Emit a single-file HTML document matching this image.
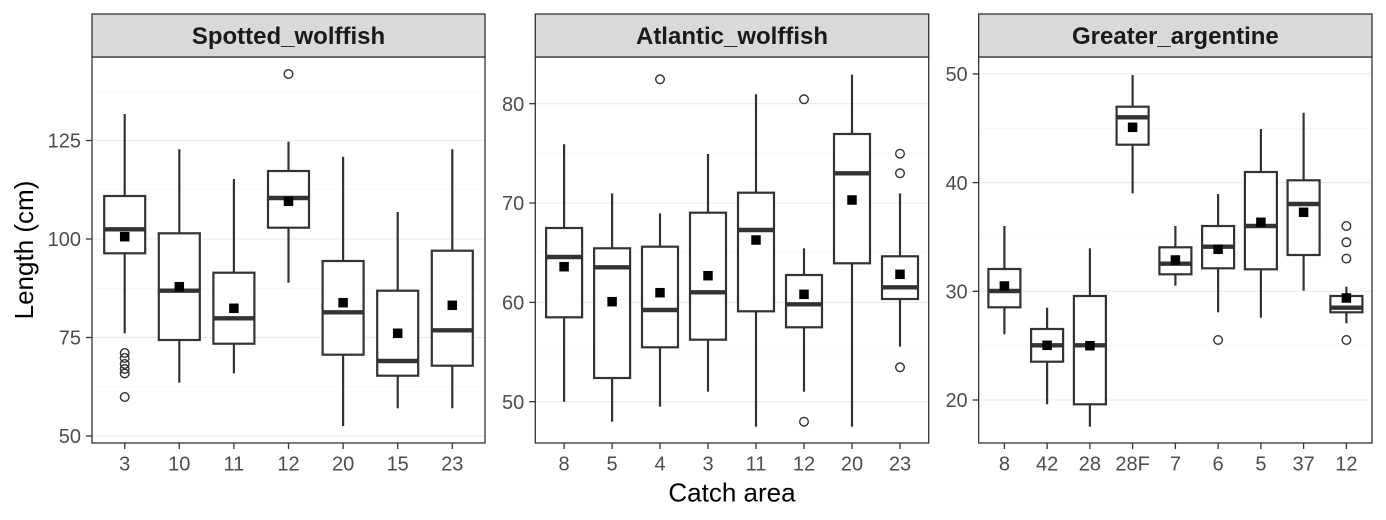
<!DOCTYPE html>
<html>
<head>
<meta charset="utf-8">
<style>
html,body{margin:0;padding:0;background:#fff;}
svg{display:block;}
.tk{font-family:"Liberation Sans",Arial,sans-serif;font-size:20px;fill:#4d4d4d;}
.st{font-family:"Liberation Sans",Arial,sans-serif;font-size:24px;font-weight:bold;fill:#1a1a1a;}
.ti{font-family:"Liberation Sans",Arial,sans-serif;font-size:26px;fill:#000;}
.gM{stroke:#ebebeb;stroke-width:1.1;}
.gm{stroke:#f2f2f2;stroke-width:0.6;}
.w{stroke:#333;stroke-width:2.2;}
.b{fill:#fff;stroke:#333;stroke-width:2.2;}
.md{stroke:#333;stroke-width:4.4;}
.o{fill:none;stroke:#333;stroke-width:1.4;}
.mn{fill:#000;}
.fr{fill:none;stroke:#333;stroke-width:1.3;}
.tm{stroke:#333;stroke-width:1.3;}
</style>
</head>
<body>
<svg width="1386" height="520" viewBox="0 0 1386 520" xmlns="http://www.w3.org/2000/svg">
<rect x="0" y="0" width="1386" height="520" fill="#fff"/>

<!-- ================= PANEL 1 ================= -->
<rect x="92" y="57" width="393" height="386" fill="#fff"/>
<g>
<line class="gm" x1="92" x2="485" y1="386.75" y2="386.75"/>
<line class="gm" x1="92" x2="485" y1="288.25" y2="288.25"/>
<line class="gm" x1="92" x2="485" y1="189.75" y2="189.75"/>
<line class="gm" x1="92" x2="485" y1="91.25" y2="91.25"/>
<line class="gM" x1="92" x2="485" y1="436" y2="436"/>
<line class="gM" x1="92" x2="485" y1="337.5" y2="337.5"/>
<line class="gM" x1="92" x2="485" y1="239" y2="239"/>
<line class="gM" x1="92" x2="485" y1="140.5" y2="140.5"/>
</g>
<!-- box 3 -->
<line class="w" x1="124.7" x2="124.7" y1="114" y2="196"/>
<line class="w" x1="124.7" x2="124.7" y1="253.3" y2="333.3"/>
<rect class="b" x="104.2" y="196" width="41" height="57.3"/>
<line class="md" x1="104.2" x2="145.2" y1="229.3" y2="229.3"/>
<circle class="o" cx="124.7" cy="353" r="4.3"/>
<circle class="o" cx="124.7" cy="358" r="4.3"/>
<circle class="o" cx="124.7" cy="364" r="4.3"/>
<circle class="o" cx="124.7" cy="369" r="4.3"/>
<circle class="o" cx="124.7" cy="373.5" r="4.3"/>
<circle class="o" cx="124.7" cy="397" r="4.3"/>
<rect class="mn" x="119.95" y="231.95" width="9.5" height="9.5"/>
<!-- box 10 -->
<line class="w" x1="179.3" x2="179.3" y1="149.3" y2="233.3"/>
<line class="w" x1="179.3" x2="179.3" y1="340" y2="382.7"/>
<rect class="b" x="158.8" y="233.3" width="41" height="106.7"/>
<line class="md" x1="158.8" x2="199.8" y1="290.7" y2="290.7"/>
<rect class="mn" x="174.55" y="281.95" width="9.5" height="9.5"/>
<!-- box 11 -->
<line class="w" x1="233.9" x2="233.9" y1="179" y2="272.7"/>
<line class="w" x1="233.9" x2="233.9" y1="343.7" y2="373.3"/>
<rect class="b" x="213.4" y="272.7" width="41" height="71"/>
<line class="md" x1="213.4" x2="254.4" y1="318.3" y2="318.3"/>
<rect class="mn" x="229.15" y="303.55" width="9.5" height="9.5"/>
<!-- box 12 -->
<line class="w" x1="288.5" x2="288.5" y1="141.7" y2="171"/>
<line class="w" x1="288.5" x2="288.5" y1="227.7" y2="282.7"/>
<rect class="b" x="268" y="171" width="41" height="56.7"/>
<line class="md" x1="268" x2="309" y1="198" y2="198"/>
<circle class="o" cx="288.5" cy="74" r="4.3"/>
<rect class="mn" x="283.75" y="196.55" width="9.5" height="9.5"/>
<!-- box 20 -->
<line class="w" x1="343.1" x2="343.1" y1="156.7" y2="261"/>
<line class="w" x1="343.1" x2="343.1" y1="354.7" y2="426"/>
<rect class="b" x="322.6" y="261" width="41" height="93.7"/>
<line class="md" x1="322.6" x2="363.6" y1="312.3" y2="312.3"/>
<rect class="mn" x="338.35" y="297.95" width="9.5" height="9.5"/>
<!-- box 15 -->
<line class="w" x1="397.7" x2="397.7" y1="212" y2="290.7"/>
<line class="w" x1="397.7" x2="397.7" y1="375.7" y2="408.3"/>
<rect class="b" x="377.2" y="290.7" width="41" height="85"/>
<line class="md" x1="377.2" x2="418.2" y1="361" y2="361"/>
<rect class="mn" x="392.95" y="328.55" width="9.5" height="9.5"/>
<!-- box 23 -->
<line class="w" x1="452.3" x2="452.3" y1="149.3" y2="250.7"/>
<line class="w" x1="452.3" x2="452.3" y1="365.7" y2="408.3"/>
<rect class="b" x="431.8" y="250.7" width="41" height="115"/>
<line class="md" x1="431.8" x2="472.8" y1="330.3" y2="330.3"/>
<rect class="mn" x="447.55" y="300.55" width="9.5" height="9.5"/>

<rect class="fr" x="92" y="57" width="393" height="386"/>
<rect x="92" y="14" width="393" height="43" fill="#d9d9d9" stroke="#333" stroke-width="1.3"/>
<text class="st" x="288.5" y="44" text-anchor="middle">Spotted_wolffish</text>
<!-- y ticks -->
<line class="tm" x1="86" x2="92" y1="436" y2="436"/>
<line class="tm" x1="86" x2="92" y1="337.5" y2="337.5"/>
<line class="tm" x1="86" x2="92" y1="239" y2="239"/>
<line class="tm" x1="86" x2="92" y1="140.5" y2="140.5"/>
<text class="tk" x="81" y="443.2" text-anchor="end">50</text>
<text class="tk" x="81" y="344.7" text-anchor="end">75</text>
<text class="tk" x="81" y="246.2" text-anchor="end">100</text>
<text class="tk" x="81" y="147.7" text-anchor="end">125</text>
<!-- x ticks -->
<g>
<line class="tm" x1="124.7" x2="124.7" y1="443" y2="449"/>
<line class="tm" x1="179.3" x2="179.3" y1="443" y2="449"/>
<line class="tm" x1="233.9" x2="233.9" y1="443" y2="449"/>
<line class="tm" x1="288.5" x2="288.5" y1="443" y2="449"/>
<line class="tm" x1="343.1" x2="343.1" y1="443" y2="449"/>
<line class="tm" x1="397.7" x2="397.7" y1="443" y2="449"/>
<line class="tm" x1="452.3" x2="452.3" y1="443" y2="449"/>
</g>
<text class="tk" x="124.7" y="470.5" text-anchor="middle">3</text>
<text class="tk" x="179.3" y="470.5" text-anchor="middle">10</text>
<text class="tk" x="233.9" y="470.5" text-anchor="middle">11</text>
<text class="tk" x="288.5" y="470.5" text-anchor="middle">12</text>
<text class="tk" x="343.1" y="470.5" text-anchor="middle">20</text>
<text class="tk" x="397.7" y="470.5" text-anchor="middle">15</text>
<text class="tk" x="452.3" y="470.5" text-anchor="middle">23</text>

<!-- ================= PANEL 2 ================= -->
<rect x="535.3" y="57" width="393.4" height="386" fill="#fff"/>
<g>
<line class="gm" x1="535.3" x2="928.7" y1="352" y2="352"/>
<line class="gm" x1="535.3" x2="928.7" y1="252.7" y2="252.7"/>
<line class="gm" x1="535.3" x2="928.7" y1="153.4" y2="153.4"/>
<line class="gM" x1="535.3" x2="928.7" y1="401.7" y2="401.7"/>
<line class="gM" x1="535.3" x2="928.7" y1="302.4" y2="302.4"/>
<line class="gM" x1="535.3" x2="928.7" y1="203" y2="203"/>
<line class="gM" x1="535.3" x2="928.7" y1="103.7" y2="103.7"/>
</g>
<!-- 8 -->
<line class="w" x1="564.1" x2="564.1" y1="144.3" y2="228"/>
<line class="w" x1="564.1" x2="564.1" y1="317.3" y2="401.7"/>
<rect class="b" x="546.1" y="228" width="36" height="89.3"/>
<line class="md" x1="546.1" x2="582.1" y1="257" y2="257"/>
<rect class="mn" x="559.35" y="261.95" width="9.5" height="9.5"/>
<!-- 5 -->
<line class="w" x1="612.1" x2="612.1" y1="193.3" y2="248.3"/>
<line class="w" x1="612.1" x2="612.1" y1="378" y2="421.7"/>
<rect class="b" x="594.1" y="248.3" width="36" height="129.7"/>
<line class="md" x1="594.1" x2="630.1" y1="267.3" y2="267.3"/>
<rect class="mn" x="607.35" y="296.95" width="9.5" height="9.5"/>
<!-- 4 -->
<line class="w" x1="660" x2="660" y1="213.3" y2="246.7"/>
<line class="w" x1="660" x2="660" y1="347.3" y2="406.7"/>
<rect class="b" x="642" y="246.7" width="36" height="100.6"/>
<line class="md" x1="642" x2="678" y1="310" y2="310"/>
<circle class="o" cx="660" cy="79.3" r="4.3"/>
<rect class="mn" x="655.25" y="287.95" width="9.5" height="9.5"/>
<!-- 3 -->
<line class="w" x1="708" x2="708" y1="154" y2="212.7"/>
<line class="w" x1="708" x2="708" y1="339.7" y2="391.7"/>
<rect class="b" x="690" y="212.7" width="36" height="127"/>
<line class="md" x1="690" x2="726" y1="292.3" y2="292.3"/>
<rect class="mn" x="703.25" y="270.95" width="9.5" height="9.5"/>
<!-- 11 -->
<line class="w" x1="756" x2="756" y1="94.3" y2="192.7"/>
<line class="w" x1="756" x2="756" y1="311.3" y2="426.7"/>
<rect class="b" x="738" y="192.7" width="36" height="118.6"/>
<line class="md" x1="738" x2="774" y1="230" y2="230"/>
<rect class="mn" x="751.25" y="235.25" width="9.5" height="9.5"/>
<!-- 12 -->
<line class="w" x1="804" x2="804" y1="248.3" y2="275"/>
<line class="w" x1="804" x2="804" y1="327.3" y2="391.7"/>
<rect class="b" x="786" y="275" width="36" height="52.3"/>
<line class="md" x1="786" x2="822" y1="304.3" y2="304.3"/>
<circle class="o" cx="804" cy="99.3" r="4.3"/>
<circle class="o" cx="804" cy="421.7" r="4.3"/>
<rect class="mn" x="799.25" y="289.55" width="9.5" height="9.5"/>
<!-- 20 -->
<line class="w" x1="852" x2="852" y1="74.7" y2="134"/>
<line class="w" x1="852" x2="852" y1="263.3" y2="426.7"/>
<rect class="b" x="834" y="134" width="36" height="129.3"/>
<line class="md" x1="834" x2="870" y1="173.3" y2="173.3"/>
<rect class="mn" x="847.25" y="195.25" width="9.5" height="9.5"/>
<!-- 23 -->
<line class="w" x1="900" x2="900" y1="193.3" y2="256.3"/>
<line class="w" x1="900" x2="900" y1="299" y2="346.7"/>
<rect class="b" x="882" y="256.3" width="36" height="42.7"/>
<line class="md" x1="882" x2="918" y1="287.3" y2="287.3"/>
<circle class="o" cx="900" cy="153.7" r="4.3"/>
<circle class="o" cx="900" cy="173.3" r="4.3"/>
<circle class="o" cx="900" cy="367.3" r="4.3"/>
<rect class="mn" x="895.25" y="269.55" width="9.5" height="9.5"/>

<rect class="fr" x="535.3" y="57" width="393.4" height="386"/>
<rect x="535.3" y="14" width="393.4" height="43" fill="#d9d9d9" stroke="#333" stroke-width="1.3"/>
<text class="st" x="732" y="44" text-anchor="middle">Atlantic_wolffish</text>
<line class="tm" x1="529.3" x2="535.3" y1="401.7" y2="401.7"/>
<line class="tm" x1="529.3" x2="535.3" y1="302.4" y2="302.4"/>
<line class="tm" x1="529.3" x2="535.3" y1="203" y2="203"/>
<line class="tm" x1="529.3" x2="535.3" y1="103.7" y2="103.7"/>
<text class="tk" x="524.3" y="408.9" text-anchor="end">50</text>
<text class="tk" x="524.3" y="309.6" text-anchor="end">60</text>
<text class="tk" x="524.3" y="210.2" text-anchor="end">70</text>
<text class="tk" x="524.3" y="110.9" text-anchor="end">80</text>
<g>
<line class="tm" x1="564.1" x2="564.1" y1="443" y2="449"/>
<line class="tm" x1="612.1" x2="612.1" y1="443" y2="449"/>
<line class="tm" x1="660" x2="660" y1="443" y2="449"/>
<line class="tm" x1="708" x2="708" y1="443" y2="449"/>
<line class="tm" x1="756" x2="756" y1="443" y2="449"/>
<line class="tm" x1="804" x2="804" y1="443" y2="449"/>
<line class="tm" x1="852" x2="852" y1="443" y2="449"/>
<line class="tm" x1="900" x2="900" y1="443" y2="449"/>
</g>
<text class="tk" x="564.1" y="470.5" text-anchor="middle">8</text>
<text class="tk" x="612.1" y="470.5" text-anchor="middle">5</text>
<text class="tk" x="660" y="470.5" text-anchor="middle">4</text>
<text class="tk" x="708" y="470.5" text-anchor="middle">3</text>
<text class="tk" x="756" y="470.5" text-anchor="middle">11</text>
<text class="tk" x="804" y="470.5" text-anchor="middle">12</text>
<text class="tk" x="852" y="470.5" text-anchor="middle">20</text>
<text class="tk" x="900" y="470.5" text-anchor="middle">23</text>

<!-- ================= PANEL 3 ================= -->
<rect x="978.7" y="57" width="393.3" height="386" fill="#fff"/>
<g>
<line class="gm" x1="978.7" x2="1372" y1="345.7" y2="345.7"/>
<line class="gm" x1="978.7" x2="1372" y1="237" y2="237"/>
<line class="gm" x1="978.7" x2="1372" y1="128.3" y2="128.3"/>
<line class="gM" x1="978.7" x2="1372" y1="400" y2="400"/>
<line class="gM" x1="978.7" x2="1372" y1="291.3" y2="291.3"/>
<line class="gM" x1="978.7" x2="1372" y1="182.6" y2="182.6"/>
<line class="gM" x1="978.7" x2="1372" y1="73.9" y2="73.9"/>
</g>
<!-- 8 -->
<line class="w" x1="1004.4" x2="1004.4" y1="226" y2="269"/>
<line class="w" x1="1004.4" x2="1004.4" y1="307.3" y2="334.3"/>
<rect class="b" x="988.4" y="269" width="32" height="38.3"/>
<line class="md" x1="988.4" x2="1020.4" y1="291" y2="291"/>
<rect class="mn" x="999.65" y="281.25" width="9.5" height="9.5"/>
<!-- 42 -->
<line class="w" x1="1047.1" x2="1047.1" y1="307.7" y2="329"/>
<line class="w" x1="1047.1" x2="1047.1" y1="361.7" y2="404.3"/>
<rect class="b" x="1031.1" y="329" width="32" height="32.7"/>
<line class="md" x1="1031.1" x2="1063.1" y1="345.3" y2="345.3"/>
<rect class="mn" x="1042.35" y="340.55" width="9.5" height="9.5"/>
<!-- 28 -->
<line class="w" x1="1089.9" x2="1089.9" y1="248.3" y2="296"/>
<line class="w" x1="1089.9" x2="1089.9" y1="404.3" y2="426.7"/>
<rect class="b" x="1073.9" y="296" width="32" height="108.3"/>
<line class="md" x1="1073.9" x2="1105.9" y1="345.3" y2="345.3"/>
<rect class="mn" x="1085.15" y="340.95" width="9.5" height="9.5"/>
<!-- 28F -->
<line class="w" x1="1132.6" x2="1132.6" y1="75" y2="106.7"/>
<line class="w" x1="1132.6" x2="1132.6" y1="144.7" y2="193.3"/>
<rect class="b" x="1116.6" y="106.7" width="32" height="38"/>
<line class="md" x1="1116.6" x2="1148.6" y1="117.3" y2="117.3"/>
<rect class="mn" x="1127.85" y="122.55" width="9.5" height="9.5"/>
<!-- 7 -->
<line class="w" x1="1175.4" x2="1175.4" y1="226" y2="247.3"/>
<line class="w" x1="1175.4" x2="1175.4" y1="274.3" y2="285.7"/>
<rect class="b" x="1159.4" y="247.3" width="32" height="27"/>
<line class="md" x1="1159.4" x2="1191.4" y1="263.7" y2="263.7"/>
<rect class="mn" x="1170.65" y="255.25" width="9.5" height="9.5"/>
<!-- 6 -->
<line class="w" x1="1218.1" x2="1218.1" y1="194" y2="226"/>
<line class="w" x1="1218.1" x2="1218.1" y1="268.3" y2="312.3"/>
<rect class="b" x="1202.1" y="226" width="32" height="42.3"/>
<line class="md" x1="1202.1" x2="1234.1" y1="246.7" y2="246.7"/>
<circle class="o" cx="1218.1" cy="340" r="4.3"/>
<rect class="mn" x="1213.35" y="244.55" width="9.5" height="9.5"/>
<!-- 5 -->
<line class="w" x1="1260.9" x2="1260.9" y1="129" y2="172"/>
<line class="w" x1="1260.9" x2="1260.9" y1="269.3" y2="317.7"/>
<rect class="b" x="1244.9" y="172" width="32" height="97.3"/>
<line class="md" x1="1244.9" x2="1276.9" y1="226" y2="226"/>
<rect class="mn" x="1256.15" y="217.55" width="9.5" height="9.5"/>
<!-- 37 -->
<line class="w" x1="1303.6" x2="1303.6" y1="112.7" y2="180.3"/>
<line class="w" x1="1303.6" x2="1303.6" y1="255" y2="290.7"/>
<rect class="b" x="1287.6" y="180.3" width="32" height="74.7"/>
<line class="md" x1="1287.6" x2="1319.6" y1="204" y2="204"/>
<rect class="mn" x="1298.85" y="207.55" width="9.5" height="9.5"/>
<!-- 12 -->
<line class="w" x1="1346.4" x2="1346.4" y1="286.7" y2="296"/>
<line class="w" x1="1346.4" x2="1346.4" y1="312.3" y2="323.3"/>
<rect class="b" x="1330.4" y="296" width="32" height="16.3"/>
<line class="md" x1="1330.4" x2="1362.4" y1="307.7" y2="307.7"/>
<circle class="o" cx="1346.4" cy="226" r="4.3"/>
<circle class="o" cx="1346.4" cy="242.3" r="4.3"/>
<circle class="o" cx="1346.4" cy="258.6" r="4.3"/>
<circle class="o" cx="1346.4" cy="340" r="4.3"/>
<rect class="mn" x="1341.65" y="293.25" width="9.5" height="9.5"/>

<rect class="fr" x="978.7" y="57" width="393.3" height="386"/>
<rect x="978.7" y="14" width="393.3" height="43" fill="#d9d9d9" stroke="#333" stroke-width="1.3"/>
<text class="st" x="1175.4" y="44" text-anchor="middle">Greater_argentine</text>
<line class="tm" x1="972.7" x2="978.7" y1="400" y2="400"/>
<line class="tm" x1="972.7" x2="978.7" y1="291.3" y2="291.3"/>
<line class="tm" x1="972.7" x2="978.7" y1="182.6" y2="182.6"/>
<line class="tm" x1="972.7" x2="978.7" y1="73.9" y2="73.9"/>
<text class="tk" x="967.7" y="407.2" text-anchor="end">20</text>
<text class="tk" x="967.7" y="298.5" text-anchor="end">30</text>
<text class="tk" x="967.7" y="189.8" text-anchor="end">40</text>
<text class="tk" x="967.7" y="81.1" text-anchor="end">50</text>
<g>
<line class="tm" x1="1004.4" x2="1004.4" y1="443" y2="449"/>
<line class="tm" x1="1047.1" x2="1047.1" y1="443" y2="449"/>
<line class="tm" x1="1089.9" x2="1089.9" y1="443" y2="449"/>
<line class="tm" x1="1132.6" x2="1132.6" y1="443" y2="449"/>
<line class="tm" x1="1175.4" x2="1175.4" y1="443" y2="449"/>
<line class="tm" x1="1218.1" x2="1218.1" y1="443" y2="449"/>
<line class="tm" x1="1260.9" x2="1260.9" y1="443" y2="449"/>
<line class="tm" x1="1303.6" x2="1303.6" y1="443" y2="449"/>
<line class="tm" x1="1346.4" x2="1346.4" y1="443" y2="449"/>
</g>
<text class="tk" x="1004.4" y="470.5" text-anchor="middle">8</text>
<text class="tk" x="1047.1" y="470.5" text-anchor="middle">42</text>
<text class="tk" x="1089.9" y="470.5" text-anchor="middle">28</text>
<text class="tk" x="1132.6" y="470.5" text-anchor="middle">28F</text>
<text class="tk" x="1175.4" y="470.5" text-anchor="middle">7</text>
<text class="tk" x="1218.1" y="470.5" text-anchor="middle">6</text>
<text class="tk" x="1260.9" y="470.5" text-anchor="middle">5</text>
<text class="tk" x="1303.6" y="470.5" text-anchor="middle">37</text>
<text class="tk" x="1346.4" y="470.5" text-anchor="middle">12</text>

<!-- axis titles -->
<text class="ti" x="732" y="501.5" text-anchor="middle">Catch area</text>
<text class="ti" transform="translate(33,250) rotate(-90)" text-anchor="middle">Length (cm)</text>
</svg>
</body>
</html>
